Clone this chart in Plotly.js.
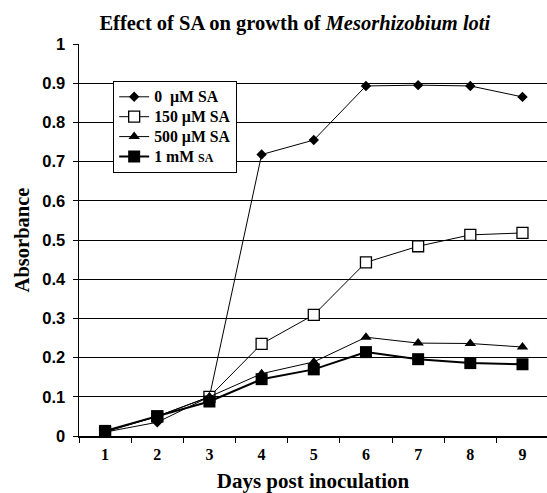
<!DOCTYPE html>
<html><head><meta charset="utf-8">
<script src="https://cdn.plot.ly/plotly-3.0.1.min.js"></script>
<style>html,body{margin:0;padding:0;background:#fff}</style>
</head><body>
<div id="chart" style="width:547px;height:493px"></div>
<script>
const days = ['1','2','3','4','5','6','7','8','9'];
const sa0 = [0.010, 0.035, 0.100, 0.718, 0.755, 0.893, 0.895, 0.893, 0.865];
const sa150 = [0.010, 0.050, 0.100, 0.235, 0.309, 0.443, 0.484, 0.513, 0.518];
const sa500 = [0.012, 0.050, 0.100, 0.159, 0.189, 0.252, 0.237, 0.236, 0.227];
const sa1mM = [0.013, 0.050, 0.088, 0.145, 0.170, 0.214, 0.196, 0.186, 0.183];
const names = ["<span style='font-size:15.8px'><b>0&nbsp; µM SA</b></span>",
               "<span style='font-size:15.8px'><b>150 µM SA</b></span>",
               "<span style='font-size:15.8px'><b>500 µM SA</b></span>",
               "<span style='font-size:15.8px'><b>1 mM </b></span><span style='font-size:12px'><b>SA</b></span>"];

const serif = '"Liberation Serif", "Times New Roman", Times, serif';
const sans = '"Liberation Sans", Arial, sans-serif';

const traces = [
  {x: days, y: sa0, name: names[0], mode: 'lines+markers',
   line: {color: '#000', width: 1}, marker: {symbol: 'diamond', size: 8, color: '#000'}},
  {x: days, y: sa150, name: names[1], mode: 'lines+markers',
   line: {color: '#000', width: 1}, marker: {symbol: 'square', size: 11, color: '#fff', line: {color: '#000', width: 1.3}}},
  {x: days, y: sa500, name: names[2], mode: 'lines+markers',
   line: {color: '#000', width: 1}, marker: {symbol: 'triangle-up', size: 10, color: '#000'}},
  {x: days, y: sa1mM, name: names[3], mode: 'lines+markers',
   line: {color: '#000', width: 2}, marker: {symbol: 'square', size: 12, color: '#000'}}
];

const layout = {
  width: 547, height: 493,
  margin: {l: 79, r: 0, t: 44, b: 57},
  paper_bgcolor: '#fff', plot_bgcolor: '#fff',
  showlegend: true,
  title: {text: '<b>Effect of SA on growth of <i>Mesorhizobium loti</i></b>',
          font: {family: serif, size: 20.5, color: '#000'}, x: 0.539, xanchor: 'center', y: 0.953, yanchor: 'middle'},
  xaxis: {type: 'category', range: [-0.5, 8.47], tickson: 'boundaries', ticks: 'outside', ticklen: 5,
          tickcolor: '#000', showline: true, linecolor: '#000', linewidth: 1.5, showgrid: false, zeroline: false,
          tickfont: {family: serif, size: 16, color: '#000'}, ticklabelstandoff: 3,
          tickprefix: '<b>', ticksuffix: '</b>',
          title: {text: '<b>Days post inoculation</b>', font: {family: serif, size: 21, color: '#000'}, standoff: 14}},
  yaxis: {range: [0, 1], dtick: 0.1, tick0: 0, ticks: 'outside', ticklen: 5, tickcolor: '#000',
          showline: true, linecolor: '#000', linewidth: 1.5, showgrid: true, gridcolor: '#000', gridwidth: 1,
          zeroline: false, tickfont: {family: sans, size: 16.5, color: '#000'}, ticklabelstandoff: 4,
          tickprefix: '<b>', ticksuffix: '</b>',
          title: {text: '<b>Absorbance</b>', font: {family: serif, size: 20.5, color: '#000'}, standoff: 7}},
  legend: {x: 0.073, y: 0.906, xanchor: 'left', yanchor: 'top', bgcolor: '#fff', bordercolor: '#000', borderwidth: 1,
           font: {family: serif, size: 13, color: '#000'}, tracegroupgap: 0, itemwidth: 30}
};

Plotly.newPlot('chart', traces, layout, {displayModeBar: false, staticPlot: true});
</script>
</body></html>
